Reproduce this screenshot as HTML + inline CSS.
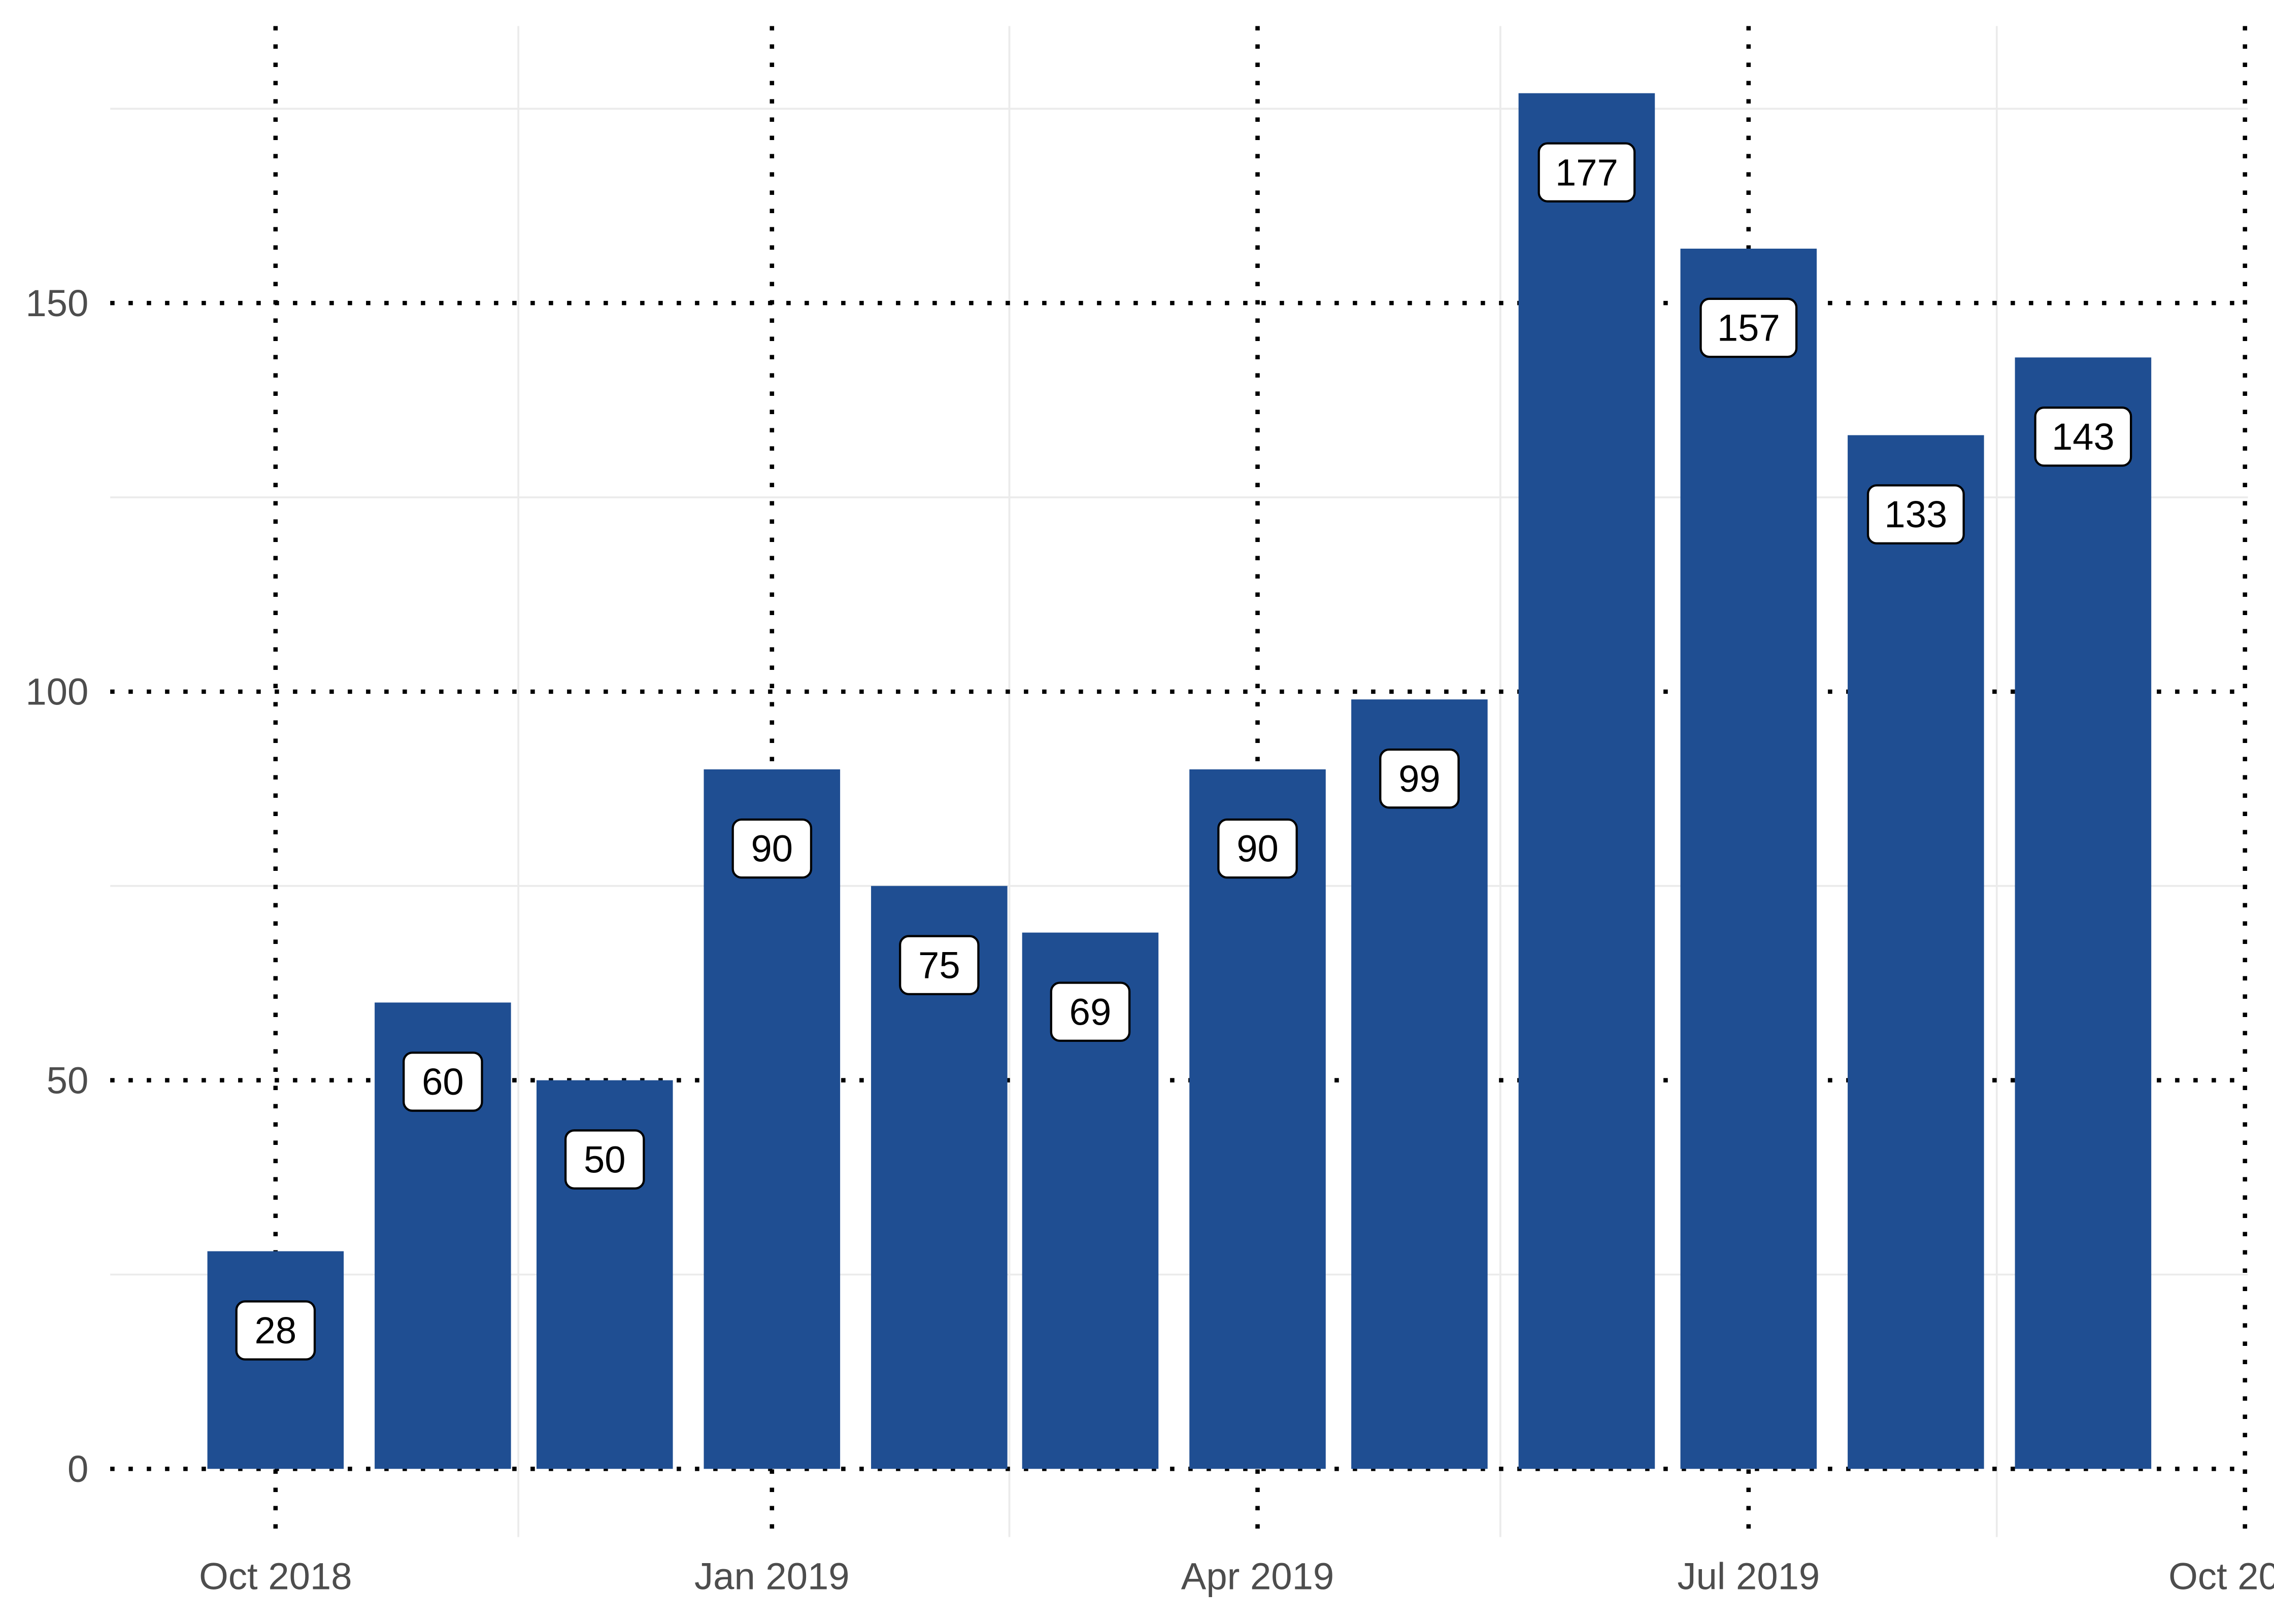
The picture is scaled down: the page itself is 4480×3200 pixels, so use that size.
<!DOCTYPE html>
<html><head><meta charset="utf-8"><style>
html,body{margin:0;padding:0;background:#fff;width:4480px;height:3200px;overflow:hidden}
svg{display:block}
</style></head><body>
<svg id="chart" width="4480" height="3200" viewBox="0 0 1568 1120" xmlns="http://www.w3.org/2000/svg">
<g id="grid-minor"></g>
<g id="grid-major"></g>
<g id="bars"></g>
<g id="labels"></g>
<g id="yaxis"></g>
<g id="xaxis"></g>
</svg>
<script>
const months = ["2018-10-01","2018-11-01","2018-12-01","2019-01-01","2019-02-01","2019-03-01","2019-04-01","2019-05-01","2019-06-01","2019-07-01","2019-08-01","2019-09-01"];
const values = [28,60,50,90,75,69,90,99,177,157,133,143];
const yTicks = [0,50,100,150];
const yMinor = [25,75,125,175];
const xTickDates = ["2018-10-01","2019-01-01","2019-04-01","2019-07-01","2019-10-01"];
const xTickLabels = ["Oct 2018","Jan 2019","Apr 2019","Jul 2019","Oct 2019"];
const xMinorDates = ["2018-11-15","2019-02-14","2019-05-16","2019-08-16"];

const NS="http://www.w3.org/2000/svg";
const L=76, R=1550, T=18, B=1060;
const t0=Date.UTC(2018,9,1);
function x(d){const p=d.split("-");const t=Date.UTC(+p[0],+p[1]-1,+p[2]);return 190+(t-t0)/86400000*3.7205;}
function y(v){return 1013-v*5.36;}
function mk(tag,attrs,parent){const e=document.createElementNS(NS,tag);for(const k in attrs)e.setAttribute(k,attrs[k]);parent.appendChild(e);return e;}
const gMin=document.getElementById("grid-minor"),gMaj=document.getElementById("grid-major"),gB=document.getElementById("bars"),gL=document.getElementById("labels"),gY=document.getElementById("yaxis"),gX=document.getElementById("xaxis");

yMinor.forEach(v=>{const e=mk("line",{x1:L,x2:R,y1:y(v),y2:y(v),stroke:"#ebebeb","stroke-width":1.3},gMin);

});
xMinorDates.forEach(d=>{const e=mk("line",{x1:x(d),x2:x(d),y1:T,y2:B,stroke:"#ebebeb","stroke-width":1.3},gMin);

});
yTicks.forEach(v=>{const e=mk("line",{x1:L,x2:R,y1:y(v),y2:y(v),stroke:"#000","stroke-width":3,"stroke-dasharray":"3 9.6"},gMaj);

});
xTickDates.forEach(d=>{const e=mk("line",{x1:x(d),x2:x(d),y1:T,y2:B,stroke:"#000","stroke-width":3,"stroke-dasharray":"3 9.6"},gMaj);

});

const bw=94;
months.forEach((m,i)=>{
  const cx=x(m), v=values[i];
  const r=mk("rect",{x:cx-bw/2,y:y(v),width:bw,height:y(0)-y(v),fill:"#1f4e92"},gB);
  
  
  const s=String(v), w=s.length>2?66:54, cy=y(v-10)+1;
  const g=mk("g",{},gL);
  
  
  mk("rect",{x:cx-w/2,y:cy-20,width:w,height:40,rx:6,fill:"#fff",stroke:"#000","stroke-width":1.5},g);
  const t=mk("text",{x:cx,y:cy+9,"text-anchor":"middle","font-family":"Liberation Sans, Arial, sans-serif","font-size":26,fill:"#000"},g);
  t.textContent=s;
});
yTicks.forEach(v=>{const t=mk("text",{x:61,y:y(v)+9,"text-anchor":"end","font-family":"Liberation Sans, sans-serif","font-size":26,fill:"#4d4d4d"},gY);


t.textContent=v;});
xTickDates.forEach((d,i)=>{const t=mk("text",{x:x(d),y:1096,"text-anchor":"middle","font-family":"Liberation Sans, sans-serif","font-size":26,fill:"#4d4d4d"},gX);


t.textContent=xTickLabels[i];});
</script>
</body></html>
